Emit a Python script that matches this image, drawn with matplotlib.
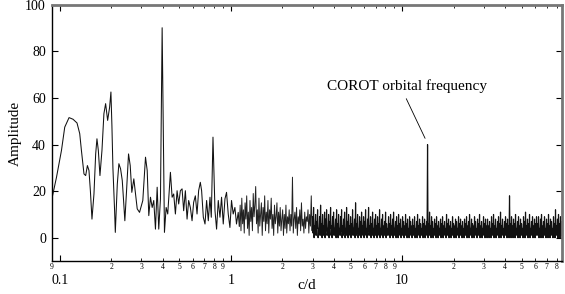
import matplotlib
matplotlib.use('Agg')
import matplotlib.pyplot as plt
import numpy as np
from matplotlib.ticker import LogLocator, FixedLocator, FuncFormatter

plt.rcParams['font.family'] = ['Liberation Serif', 'DejaVu Serif']

# low frequency part, read point by point (c/d, amplitude)
freq_low = [0.0895, 0.0957, 0.1023, 0.1069, 0.1133, 0.1195, 0.1261, 0.1308, 0.1338, 0.1385,
            0.1417, 0.1450, 0.1481, 0.1510, 0.1542, 0.1584, 0.1621, 0.1649, 0.1680, 0.1717,
            0.1764, 0.1811, 0.1853, 0.1904, 0.1955, 0.1990, 0.2017, 0.2044, 0.2091, 0.2111,
            0.2168, 0.2215, 0.2266, 0.2318, 0.2359, 0.2400, 0.2455, 0.2522, 0.2580, 0.2636,
            0.2708, 0.2771, 0.2835, 0.2924, 0.3056, 0.3169, 0.3242, 0.3312, 0.3388, 0.3466,
            0.3541, 0.3623, 0.3707, 0.3787, 0.3875, 0.3964, 0.4089, 0.4183, 0.4274, 0.4431,
            0.4533, 0.4631, 0.4738, 0.4847, 0.4952, 0.5066, 0.5183, 0.5296, 0.5418, 0.5543,
            0.5664, 0.5794, 0.5928, 0.6056, 0.6196, 0.6339, 0.6476, 0.6625, 0.6742, 0.6898,
            0.7057, 0.7210, 0.7376, 0.7546, 0.7679, 0.7856, 0.8071, 0.8245, 0.8435, 0.8629,
            0.8816, 0.9020, 0.9229, 0.9427, 0.9645, 0.9867, 1.008, 1.031, 1.055, 1.078, 1.103]
amp_low = [16, 26, 37.5, 47.5, 51.6, 50.9, 49.3, 44.7, 37.5, 27.4,
           26.7, 31, 28.9, 20, 8, 18.8, 36, 42.5, 37.5, 26.7,
           37.5, 53.3, 57.6, 50.4, 56, 62.6, 48, 30, 11.6, 2.3,
           23, 31.8, 29.6, 24.6, 16, 7.3, 20, 36, 31, 19.5,
           25.3, 18.8, 12.4, 10.9, 16, 34.6, 28.9, 9.5, 17.4, 13,
           16, 3.7, 21.7, 3.7, 16.7, 90.2, 2.3, 13, 10.2, 28.1,
           17.4, 18.8, 10.2, 20.2, 14.5, 20.2, 21, 11.6, 20.2, 8,
           16, 13, 7.3, 15.2, 18, 10.2, 20.2, 23.8, 20.2, 8.8,
           5.9, 16, 7.3, 17.4, 8.8, 43.2, 11.6, 3.7, 16, 8.8,
           17.4, 5.9, 16.7, 19.5, 10.2, 4.4, 16, 10.2, 13, 5.9, 10.9]

# 1.12 - 2.98 c/d, evenly spaced in log frequency
mid_range = (1.12, 2.98)
amp_mid = [5, 14, 3, 17, 6, 12, 2, 15, 8, 18, 4, 11, 1, 16, 7, 13, 3, 19, 9, 14,
           22, 6, 12, 2, 17, 5, 10, 15, 1, 13, 7, 18, 3, 11, 6, 16, 2, 12, 8, 17,
           4, 10, 1, 14, 6, 9, 15, 2, 11, 5, 13, 3, 8, 12, 1, 10, 4, 14, 2, 9,
           6, 12, 3, 10, 5, 26, 2, 8, 11, 4, 13, 1, 9, 6, 12, 3, 15, 5, 8, 2,
           11, 4, 9, 7, 12, 2, 10, 5, 18, 3]

# 3 - 86 c/d, dense part: alternating peak / trough values
high_range = (3.0, 86.0)
peaks_high = [9, 13, 5, 10, 7, 12, 4, 9, 14, 6, 10, 5, 11, 8, 12, 4, 10, 7, 13, 5, 9, 11, 4, 8, 12,
              6, 10, 4, 9, 12, 5, 8, 11, 4, 13, 7, 10, 5, 9, 6, 12, 4, 8, 15, 6, 10, 4, 9, 7, 11,
              5, 9, 7, 12, 4, 8, 13, 5, 9, 6, 11, 4, 8, 10, 5, 9, 6, 12, 4, 8, 10, 5, 7, 11, 6,
              4, 9, 6, 10, 5, 8, 11, 4, 7, 9, 5, 10, 6, 8, 4, 9, 7, 5, 10, 6, 8, 4, 9, 7, 5,
              8, 5, 9, 4, 7, 10, 5, 8, 6, 4, 9, 6, 8, 5, 7, 40, 6, 11, 5, 9, 7, 4, 8, 6, 9,
              5, 7, 4, 8, 6, 9, 5, 7, 4, 10, 6, 8, 5, 7, 4, 9, 6, 5, 8, 7, 4, 9, 6, 8, 5,
              7, 4, 8, 6, 9, 5, 7, 10, 4, 8, 6, 5, 9, 7, 4, 8, 6, 10, 5, 7, 4, 9, 6, 8, 5,
              8, 5, 7, 4, 9, 6, 10, 5, 8, 4, 7, 9, 6, 11, 5, 8, 4, 7, 9, 6, 8, 5, 18, 6, 9,
              5, 8, 6, 10, 4, 7, 9, 5, 8, 6, 4, 9, 7, 11, 5, 8, 6, 10, 4, 7, 9, 5, 8, 6, 9,
              6, 9, 4, 8, 10, 5, 7, 9, 4, 8, 6, 10, 5, 8, 7, 4, 9, 6, 12, 5, 8, 10, 6, 9, 7]
troughs_high = [2, 0, 3, 1, 4, 0, 2, 1, 3, 0, 1, 2, 0, 3, 1, 2, 0, 4, 1, 0, 2, 1, 3, 0, 1,
                0, 2, 1, 3, 0, 1, 2, 0, 1, 3, 0, 2, 1, 0, 2, 1, 3, 0, 1, 2, 0, 1, 2, 0, 3,
                1, 0, 2, 1, 0, 3, 1, 2, 0, 1, 2, 0, 1, 3, 0, 2, 1, 0, 2, 1, 0, 1, 2, 0, 1,
                2, 1, 0, 1, 2, 0, 1, 3, 0, 1, 0, 2, 1, 0, 1, 2, 0, 1, 2, 0, 1, 0, 2, 1, 0,
                1, 2, 0, 1, 0, 2, 1, 0, 1, 2, 0, 1, 0, 2, 1, 0, 1, 2, 0, 1, 0, 1, 2, 0, 1,
                0, 1, 2, 0, 1, 0, 2, 1, 0, 1, 2, 0, 1, 0, 1, 2, 0, 1, 0, 2, 1, 0, 1, 2, 0,
                1, 0, 1, 2, 0, 1, 0, 2, 1, 0, 1, 0, 2, 1, 0, 1, 2, 0, 1, 0, 2, 1, 0, 1, 0,
                2, 0, 1, 0, 1, 2, 0, 1, 0, 2, 1, 0, 1, 0, 2, 1, 0, 1, 2, 0, 1, 0, 1, 0, 2,
                0, 1, 0, 2, 1, 0, 1, 0, 1, 2, 0, 1, 0, 2, 1, 0, 1, 0, 2, 1, 0, 1, 0, 1, 2,
                1, 0, 2, 0, 1, 0, 1, 2, 0, 1, 0, 1, 0, 2, 1, 0, 1, 0, 1, 2, 0, 1, 0, 1, 0]

orbit_freq = 13.63
orbit_amp = 42.7


def plot_spectrum():
	fig = plt.figure(figsize=(5.65, 2.94), dpi=100)
	ax = fig.add_axes([0.0912, 0.1122, 0.9035, 0.871])

	f_mid = np.geomspace(mid_range[0], mid_range[1], len(amp_mid))
	amp_high = np.column_stack([peaks_high, troughs_high]).ravel()
	f_high = np.geomspace(high_range[0], high_range[1], len(amp_high))

	ax.plot(np.concatenate([freq_low, f_mid[:1]]), np.concatenate([amp_low, amp_mid[:1]]),
		color='#111111', linewidth=0.75)
	ax.plot(np.concatenate([f_mid, f_high[:1]]), np.concatenate([amp_mid, amp_high[:1]]),
		color='#222222', linewidth=0.7)
	# dense part drawn a little heavier so it reads as a band
	ax.plot(f_high, amp_high, color='#111111', linewidth=0.85)

	ax.set_xscale('log')
	ax.set_xlim(0.0895, 86)
	ax.set_ylim(-10, 100)

	ax.xaxis.set_major_locator(LogLocator(base=10, subs=(1.0,)))
	ax.xaxis.set_minor_locator(LogLocator(base=10, subs=np.arange(2, 10), numticks=20))
	ax.xaxis.set_major_formatter(FuncFormatter(lambda v, p: '%g' % v))
	ax.xaxis.set_minor_formatter(FuncFormatter(lambda v, p: '%d' % round(v / 10 ** np.floor(np.log10(v) + 1e-9))))
	ax.yaxis.set_major_locator(FixedLocator([0, 20, 40, 60, 80, 100]))

	ax.tick_params(which='both', direction='in', top=True, right=True)
	ax.tick_params(which='major', length=4.5, width=0.8, labelsize=10)
	ax.tick_params(axis='x', which='major', pad=9)
	ax.tick_params(axis='x', which='minor', length=2.5, width=0.6, labelsize=5.5, pad=1.5)
	ax.tick_params(axis='y', which='major', pad=4)

	for side in ['left', 'bottom']:
		ax.spines[side].set_linewidth(1.0)
	for side in ['top', 'right']:
		ax.spines[side].set_linewidth(2.0)
		ax.spines[side].set_color('#777777')

	ax.set_xlabel('c/d', fontsize=11)
	ax.set_ylabel('Amplitude', fontsize=11)
	ax.xaxis.set_label_coords(0.5, -0.07)
	ax.yaxis.set_label_coords(-0.058, 0.5)

	ax.annotate('COROT orbital frequency', xy=(orbit_freq, orbit_amp), xytext=(10.68, 62),
		ha='center', va='bottom', fontsize=11,
		arrowprops=dict(arrowstyle='-', color='black', linewidth=0.6,
			relpos=(0.48, 0.0), shrinkA=2, shrinkB=0))

	plt.savefig('out.png', dpi=100)


if __name__ == '__main__':
	plot_spectrum()
